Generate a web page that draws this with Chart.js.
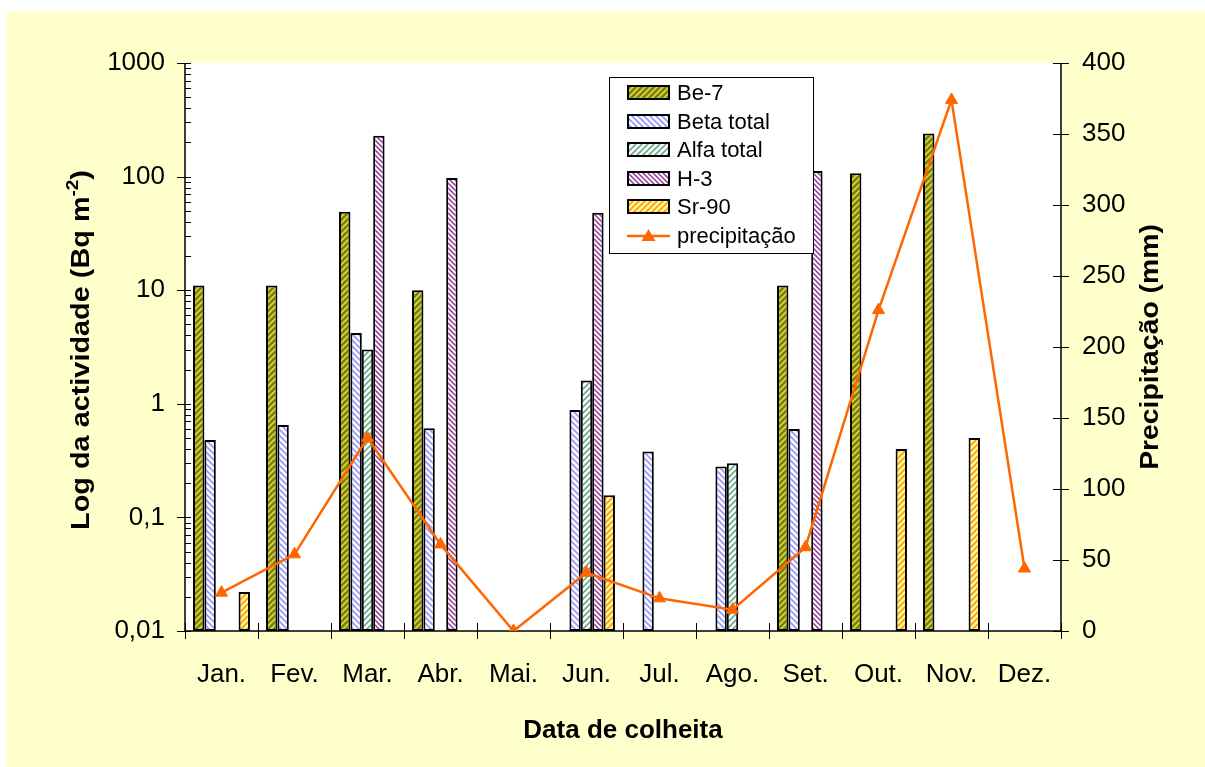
<!DOCTYPE html>
<html>
<head>
<meta charset="utf-8">
<script src="https://cdn.jsdelivr.net/npm/chart.js@4/dist/chart.umd.min.js"></script>
<style>
html,body{margin:0;padding:0;background:#ffffff;}
#wrap{width:1205px;height:767px;position:relative;}
</style>
</head>
<body>
<div id="wrap"><canvas id="c" width="1205" height="767"></canvas></div>
<script>
// ---- data ----
const months = ['Jan.','Fev.','Mar.','Abr.','Mai.','Jun.','Jul.','Ago.','Set.','Out.','Nov.','Dez.'];
const be7       = [11, 11, 49, 10, null, null, null, null, 11, 107, 240, null];
const betaTotal = [0.48, 0.65, 4.2, 0.61, null, 0.88, 0.38, 0.28, 0.6, null, null, null];
const alfaTotal = [null, null, 3, null, null, 1.6, null, 0.3, null, null, null, null];
const h3        = [null, null, 229, 97, null, 48, null, null, 112, null, null, null];
const sr90      = [0.022, null, null, null, null, 0.157, null, null, null, 0.4, 0.5, null];
const precip    = [27, 54, 136, 61, 0, 41, 23, 15, 59, 226, 374, 44];
const seriesNames = ['Be-7','Beta total','Alfa total','H-3','Sr-90','precipitação'];
const logTickValues = [0.01, 0.1, 1, 10, 100, 1000];
const logTickLabels = ['0,01','0,1','1','10','100','1000'];
const rightTickValues = [0,50,100,150,200,250,300,350,400];
const rightTickLabels = ['0','50','100','150','200','250','300','350','400'];
const xTitle = 'Data de colheita';
const yLeftTitle = 'Log da actividade (Bq m';
const yLeftSup = '-2';
const yRightTitle = 'Precipitação (mm)';

// ---- patterns ----
function makePattern(bg, fg, dir, size, lw){
  const c = document.createElement('canvas');
  c.width = size; c.height = size;
  const x = c.getContext('2d');
  x.fillStyle = bg; x.fillRect(0,0,size,size);
  x.strokeStyle = fg; x.lineWidth = lw; x.lineCap = 'square';
  x.beginPath();
  for (const o of [-size, 0, size]) {
    if (dir === '/') { x.moveTo(o, size); x.lineTo(o+size, 0); }
    else { x.moveTo(o, 0); x.lineTo(o+size, size); }
  }
  x.stroke();
  return x.createPattern(c, 'repeat');
}
const ctx = document.getElementById('c').getContext('2d');
const patBe7  = makePattern('#808000', '#D8D850', '/', 6, 1.6);
const patBeta = makePattern('#FFFFFF', '#9999FF', '\\', 6, 1.8);
const patAlfa = makePattern('#FFFFFF', '#66AA88', '/', 6, 1.6);
const patH3   = makePattern('#FFFFFF', '#993399', '\\', 5, 1.5);
const patSr90 = makePattern('#FFFF80', '#FF9933', '/', 6, 1.8);
const orange = '#FF6600';

const FONT = '"Liberation Sans", Arial, sans-serif';

const L = 185, R = 1061, T = 63, B = 631, W = 1205, H = 767;

const bgPlugin = {
  id: 'bg',
  beforeDraw(chart){
    const c = chart.ctx;
    c.save();
    c.fillStyle = '#ffffff'; c.fillRect(0,0,W,H);
    c.fillStyle = '#FFFFCC'; c.fillRect(7,11,W-7,H-11);
    const a = chart.chartArea;
    c.fillStyle = '#ffffff'; c.fillRect(a.left, a.top, a.right-a.left, a.bottom-a.top);
    c.restore();
  },
  beforeDatasetsDraw(chart){
    const c = chart.ctx, a = chart.chartArea;
    const y = chart.scales.y, y1 = chart.scales.y1, x = chart.scales.x;
    c.save();
    c.strokeStyle = '#000'; c.lineWidth = 1.5;
    c.beginPath();
    c.moveTo(a.left, a.top); c.lineTo(a.left, a.bottom);
    c.moveTo(a.right, a.top); c.lineTo(a.right, a.bottom);
    c.moveTo(a.left, a.bottom); c.lineTo(a.right, a.bottom);
    c.stroke();
    c.lineWidth = 1;
    c.beginPath();
    for (const v of logTickValues) {
      const p = Math.round(y.getPixelForValue(v)) + 0.5;
      c.moveTo(a.left-8, p); c.lineTo(a.left+6, p);
    }
    for (let k = 0; k < logTickValues.length-1; k++) {
      for (let d = 2; d <= 9; d++) {
        const p = Math.round(y.getPixelForValue(logTickValues[k]*d)) + 0.5;
        c.moveTo(a.left, p); c.lineTo(a.left+6, p);
      }
    }
    for (const v of rightTickValues) {
      const p = Math.round(y1.getPixelForValue(v)) + 0.5;
      c.moveTo(a.right-8, p); c.lineTo(a.right+8, p);
    }
    for (let i = 0; i <= months.length; i++) {
      const px = i < months.length ? x.getPixelForValue(i) - (x.getPixelForValue(1)-x.getPixelForValue(0))/2 : a.right;
      const q = Math.round(px) + 0.5;
      c.moveTo(q, a.bottom-8); c.lineTo(q, a.bottom+8);
    }
    c.stroke();
    c.restore();
  },
  afterDraw(chart){
    const c = chart.ctx;
    c.save();
    c.fillStyle = '#000';
    // x title
    c.font = 'bold 26px ' + FONT;
    c.textAlign = 'center'; c.textBaseline = 'middle';
    c.fillText(xTitle, (L+R)/2, 731);
    // left title with superscript
    c.save();
    c.translate(80, 350);
    c.rotate(-Math.PI/2);
    c.scale(1.11, 1);
    c.font = 'bold 26px ' + FONT;
    const w1 = c.measureText(yLeftTitle).width;
    c.font = 'bold 17px ' + FONT;
    const w2 = c.measureText(yLeftSup).width;
    c.font = 'bold 26px ' + FONT;
    const w3 = c.measureText(')').width;
    const tot = w1 + w2 + w3;
    let sx = -tot/2;
    c.textAlign = 'left'; c.textBaseline = 'alphabetic';
    const base = 9;
    c.fillText(yLeftTitle, sx, base); sx += w1;
    c.font = 'bold 17px ' + FONT;
    c.fillText(yLeftSup, sx, base-11); sx += w2;
    c.font = 'bold 26px ' + FONT;
    c.fillText(')', sx, base);
    c.restore();
    // right title
    c.save();
    c.translate(1151, 347);
    c.rotate(-Math.PI/2);
    c.scale(1.09, 1);
    c.font = 'bold 26px ' + FONT;
    c.textAlign = 'center'; c.textBaseline = 'middle';
    c.fillText(yRightTitle, 0, 0);
    c.restore();
    // legend
    const lx = 609, ly = 77, lw = 204, lh = 176;
    c.fillStyle = '#fff'; c.fillRect(lx, ly, lw, lh);
    c.strokeStyle = '#000'; c.lineWidth = 1;
    c.strokeRect(lx+0.5, ly+0.5, lw, lh);
    const rows = [93, 122, 150, 179, 207, 236];
    const ds = chart.data.datasets;
    c.font = '22px ' + FONT;
    c.textAlign = 'left'; c.textBaseline = 'middle';
    for (let i = 0; i < ds.length; i++) {
      const yy = rows[i];
      const d = ds[i];
      if (d.type === 'line') {
        c.strokeStyle = orange; c.lineWidth = 2.5;
        c.beginPath(); c.moveTo(627, yy); c.lineTo(670, yy); c.stroke();
        c.fillStyle = orange;
        c.beginPath(); c.moveTo(648.5, yy-7); c.lineTo(655.5, yy+5); c.lineTo(641.5, yy+5); c.closePath(); c.fill();
      } else {
        c.fillStyle = d.backgroundColor;
        c.fillRect(628, yy-7, 41, 13);
        c.strokeStyle = '#000'; c.lineWidth = 2;
        c.strokeRect(628, yy-7, 41, 13);
      }
      c.fillStyle = '#000';
      c.fillText(d.label, 677, yy+1);
    }
    c.restore();
  }
};

function barDs(label, data, pat){
  return { type:'bar', label, data, backgroundColor: pat, borderColor:'#000', borderWidth:2,
           borderSkipped:false, yAxisID:'y', order:1, categoryPercentage:0.78, barPercentage:1.0 };
}

new Chart(ctx, {
  data: {
    labels: months,
    datasets: [
      barDs(seriesNames[0], be7, patBe7),
      barDs(seriesNames[1], betaTotal, patBeta),
      barDs(seriesNames[2], alfaTotal, patAlfa),
      barDs(seriesNames[3], h3, patH3),
      barDs(seriesNames[4], sr90, patSr90),
      { type:'line', label: seriesNames[5], data: precip, yAxisID:'y1', order:0,
        borderColor: orange, backgroundColor: orange, borderWidth: 2.5, tension: 0,
        pointStyle:'triangle', pointRadius: 7, pointBackgroundColor: orange, pointBorderColor: orange,
        pointBorderWidth: 1 }
    ]
  },
  options: {
    responsive: false,
    animation: false,
    devicePixelRatio: 1,
    layout: { padding: { left: 0, right: 0, top: T, bottom: 0 } },
    plugins: { legend: { display: false }, tooltip: { enabled: false }, title: { display: false } },
    scales: {
      x: {
        type: 'category',
        offset: true,
        grid: { display: false, drawTicks: false },
        border: { display: false },
        ticks: { color: '#000', font: { family: FONT, size: 26 }, padding: 28, maxRotation: 0, autoSkip: false },
        afterFit(s){ s.height = H - B; }
      },
      y: {
        type: 'logarithmic', position: 'left', min: 0.01, max: 1000,
        grid: { display: false, drawTicks: false },
        border: { display: false },
        afterBuildTicks(s){ s.ticks = logTickValues.map(v => ({ value: v })); },
        ticks: { color: '#000', font: { family: FONT, size: 26 }, padding: 20, autoSkip: false,
                 callback: (v, i) => logTickLabels[i] },
        afterFit(s){ s.width = L; }
      },
      y1: {
        type: 'linear', position: 'right', min: 0, max: 400,
        grid: { display: false, drawTicks: false },
        border: { display: false },
        afterBuildTicks(s){ s.ticks = rightTickValues.map(v => ({ value: v })); },
        ticks: { color: '#000', font: { family: FONT, size: 26 }, padding: 21, autoSkip: false,
                 callback: (v, i) => rightTickLabels[i] },
        afterFit(s){ s.width = W - R; }
      }
    }
  },
  plugins: [bgPlugin]
});
</script>
</body>
</html>
